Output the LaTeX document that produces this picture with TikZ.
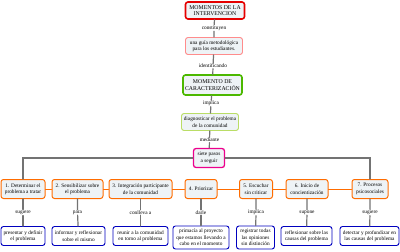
\documentclass[tikz,border=0pt]{standalone}
\usepackage{fontspec}
\setmainfont{Liberation Serif}
\usepackage{tikz}
\usepackage{xcolor}
\definecolor{boxfill}{RGB}{238,243,246}

\begin{document}
\begin{tikzpicture}[x=1pt,y=-1pt,font=\fontsize{5.3}{6.4}\selectfont,line cap=round,
  box/.style={rounded corners=2.5pt,fill=boxfill,align=center,inner sep=1pt,minimum height=17pt},
  stepbox/.style={box,draw=orange!85!red,line width=1pt,minimum height=19pt},
  leaf/.style={box,draw=blue!75!black,line width=0.9pt,fill=white,minimum height=19pt},
  conn/.style={draw=black!55,line width=1.2pt},
  lbl/.style={fill=white,inner sep=0.6pt}]
\useasboundingbox (0,0) rectangle (400,252);
% central column
\node[box,draw=red!90!black,line width=1.6pt,minimum width=59pt,font=\fontsize{5.8}{6.6}\selectfont] (top) at (215,10.5) {MOMENTOS DE LA\\INTERVENCION};
\node[box,draw=red!45,line width=0.9pt,minimum width=57pt] (guia) at (214,46) {una guía metodológica\\para los estudiantes.};
\node[box,draw=green!60!black!70!yellow,line width=1.6pt,minimum width=59pt,minimum height=20pt,font=\fontsize{5.8}{6.6}\selectfont] (carac) at (212.5,85) {MOMENTO DE\\CARACTERIZACIÓN};
\node[box,draw=green!50!black!45!yellow!60,line width=0.9pt,minimum width=57pt] (diag) at (210,122) {diagnosticar el problema\\de la comunidad};
\node[box,draw=magenta,line width=1.3pt,minimum width=31pt,minimum height=19pt] (siete) at (209,158) {siete pasos\\a seguir};
\node[lbl] (l0) at (214,28) {constituyen};
\node[lbl] (l1) at (213,66) {identificando};
\node[lbl] (l2) at (211,103.5) {implica};
\node[lbl] (l3) at (209.5,140) {mediante};
\draw[conn] (top) -- (l0) -- (guia);
\draw[conn] (guia) -- (l1) -- (carac);
\draw[conn] (carac) -- (l2) -- (diag);
\draw[conn] (diag) -- (l3) -- (siete);
% steps
\node[stepbox,minimum width=44pt] (p1) at (23,189) {1. Determinar el\\problema a tratar};
\node[stepbox,minimum width=51pt] (p2) at (77.5,189) {2. Sensibilizar sobre\\el problema};
\node[stepbox,minimum width=63pt] (p3) at (140.5,189) {3. Integración participante\\de la comunidad};
\node[stepbox,minimum width=32pt] (p4) at (201,189) {4. Priorizar};
\node[stepbox,minimum width=33pt] (p5) at (256,189) {5. Escuchar\\sin criticar};
\node[stepbox,minimum width=42pt] (p6) at (307,189) {6. Inicio de\\concientización};
\node[stepbox,minimum width=36pt] (p7) at (370,189) {7. Procesos\\psicosociales};
\draw[conn] (siete.west) -| (p1.north);
\draw[conn] (siete.east) -| (p7.north);
\foreach \a/\b in {p1/p2,p2/p3,p3/p4,p4/p5,p5/p6,p6/p7}
  \draw[orange!85!red,line width=1pt] (\a) -- (\b);
% leaves
\node[leaf,minimum width=44pt] (h1) at (23,236) {presentar y definir\\el problema};
\node[leaf,minimum width=53pt] (h2) at (78.5,236) {informar y reflexionar\\sobre el mismo};
\node[leaf,minimum width=55pt] (h3) at (140.5,236) {reunir a la comunidad\\en torno al problema};
\node[leaf,minimum width=56pt,minimum height=23pt] (h4) at (201,237.5) {primacía al proyecto\\que estamos llevando a\\cabo en el momento};
\node[leaf,minimum width=38pt,minimum height=23pt] (h5) at (255.5,237.5) {registrar todas\\las opiniones\\sin distinción};
\node[leaf,minimum width=51pt] (h6) at (306.5,236) {reflexionar sobre las\\causas del problema};
\node[leaf,minimum width=59pt] (h7) at (369.5,236) {detectar y profundizar en\\las causas del problema};
\node[lbl] (s1) at (23,212.5) {sugiere};
\node[lbl] (s2) at (77.5,212.5) {para};
\node[lbl] (s3) at (140.5,212.5) {conlleva a};
\node[lbl] (s4) at (201,212.5) {darle};
\node[lbl] (s5) at (256,212.5) {implica};
\node[lbl] (s6) at (307,212.5) {supone};
\node[lbl] (s7) at (370,212.5) {sugiere};
\foreach \i in {1,...,7}
  \draw[conn] (p\i) -- (s\i) -- (h\i);
\end{tikzpicture}
\end{document}
